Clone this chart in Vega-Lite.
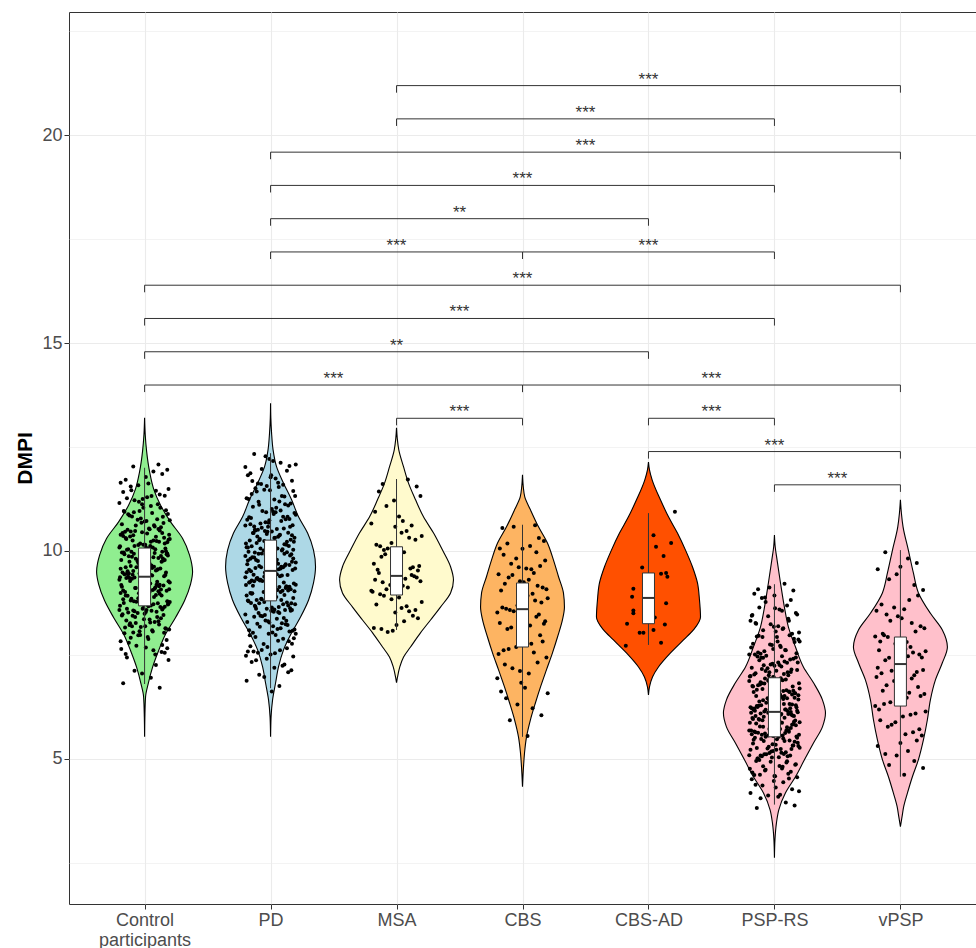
{
"$schema": "https://vega.github.io/schema/vega-lite/v6.json",
"autosize": "none",
"padding": {"left": 69, "top": 12, "right": 0, "bottom": 44},
"width": 907,
"height": 892,
"background": "white",
"config": {"view": {"stroke": "#333333", "strokeWidth": 1}, "font": "Liberation Sans"},
"datasets": {
"vio": [
{"g":"Control participants","y":5.53,"lo":1,"hi":1},{"g":"Control participants","y":6.0,"lo":0.998,"hi":1.002},{"g":"Control participants","y":6.5,"lo":0.992,"hi":1.008},{"g":"Control participants","y":6.8,"lo":0.972,"hi":1.028},{"g":"Control participants","y":7.2,"lo":0.937,"hi":1.063},{"g":"Control participants","y":7.6,"lo":0.889,"hi":1.111},{"g":"Control participants","y":8.0,"lo":0.833,"hi":1.167},{"g":"Control participants","y":8.4,"lo":0.754,"hi":1.246},{"g":"Control participants","y":8.8,"lo":0.683,"hi":1.317},{"g":"Control participants","y":9.2,"lo":0.635,"hi":1.365},{"g":"Control participants","y":9.5,"lo":0.619,"hi":1.381},{"g":"Control participants","y":9.9,"lo":0.643,"hi":1.357},{"g":"Control participants","y":10.3,"lo":0.698,"hi":1.302},{"g":"Control participants","y":10.7,"lo":0.794,"hi":1.206},{"g":"Control participants","y":11.1,"lo":0.873,"hi":1.127},{"g":"Control participants","y":11.5,"lo":0.929,"hi":1.071},{"g":"Control participants","y":11.9,"lo":0.96,"hi":1.04},{"g":"Control participants","y":12.4,"lo":0.984,"hi":1.016},{"g":"Control participants","y":12.8,"lo":0.995,"hi":1.005},{"g":"Control participants","y":13.2,"lo":1,"hi":1},
{"g":"PD","y":5.53,"lo":2,"hi":2},{"g":"PD","y":6.01,"lo":1.996,"hi":2.004},{"g":"PD","y":6.42,"lo":1.984,"hi":2.016},{"g":"PD","y":6.83,"lo":1.96,"hi":2.04},{"g":"PD","y":7.21,"lo":1.937,"hi":2.063},{"g":"PD","y":7.62,"lo":1.897,"hi":2.103},{"g":"PD","y":8.03,"lo":1.833,"hi":2.167},{"g":"PD","y":8.41,"lo":1.762,"hi":2.238},{"g":"PD","y":8.82,"lo":1.698,"hi":2.302},{"g":"PD","y":9.23,"lo":1.659,"hi":2.341},{"g":"PD","y":9.62,"lo":1.643,"hi":2.357},{"g":"PD","y":10.02,"lo":1.659,"hi":2.341},{"g":"PD","y":10.43,"lo":1.706,"hi":2.294},{"g":"PD","y":10.82,"lo":1.778,"hi":2.222},{"g":"PD","y":11.23,"lo":1.833,"hi":2.167},{"g":"PD","y":11.63,"lo":1.897,"hi":2.103},{"g":"PD","y":12.02,"lo":1.952,"hi":2.048},{"g":"PD","y":12.43,"lo":1.98,"hi":2.02},{"g":"PD","y":12.84,"lo":1.992,"hi":2.008},{"g":"PD","y":13.2,"lo":1.998,"hi":2.002},{"g":"PD","y":13.55,"lo":2,"hi":2},
{"g":"MSA","y":6.83,"lo":3,"hi":3},{"g":"MSA","y":6.97,"lo":2.992,"hi":3.008},{"g":"MSA","y":7.21,"lo":2.974,"hi":3.026},{"g":"MSA","y":7.45,"lo":2.944,"hi":3.056},{"g":"MSA","y":7.69,"lo":2.889,"hi":3.111},{"g":"MSA","y":8.03,"lo":2.81,"hi":3.19},{"g":"MSA","y":8.34,"lo":2.73,"hi":3.27},{"g":"MSA","y":8.65,"lo":2.651,"hi":3.349},{"g":"MSA","y":8.99,"lo":2.571,"hi":3.429},{"g":"MSA","y":9.3,"lo":2.548,"hi":3.452},{"g":"MSA","y":9.62,"lo":2.571,"hi":3.429},{"g":"MSA","y":10.02,"lo":2.635,"hi":3.365},{"g":"MSA","y":10.43,"lo":2.706,"hi":3.294},{"g":"MSA","y":10.82,"lo":2.786,"hi":3.214},{"g":"MSA","y":11.23,"lo":2.849,"hi":3.151},{"g":"MSA","y":11.63,"lo":2.905,"hi":3.095},{"g":"MSA","y":12.02,"lo":2.944,"hi":3.056},{"g":"MSA","y":12.43,"lo":2.982,"hi":3.018},{"g":"MSA","y":12.7,"lo":2.994,"hi":3.006},{"g":"MSA","y":12.96,"lo":3,"hi":3},
{"g":"CBS","y":4.33,"lo":4,"hi":4},{"g":"CBS","y":4.81,"lo":3.992,"hi":4.008},{"g":"CBS","y":5.14,"lo":3.984,"hi":4.016},{"g":"CBS","y":5.53,"lo":3.968,"hi":4.032},{"g":"CBS","y":5.94,"lo":3.937,"hi":4.063},{"g":"CBS","y":6.35,"lo":3.897,"hi":4.103},{"g":"CBS","y":6.73,"lo":3.857,"hi":4.143},{"g":"CBS","y":7.14,"lo":3.81,"hi":4.19},{"g":"CBS","y":7.55,"lo":3.762,"hi":4.238},{"g":"CBS","y":7.93,"lo":3.722,"hi":4.278},{"g":"CBS","y":8.34,"lo":3.683,"hi":4.317},{"g":"CBS","y":8.65,"lo":3.667,"hi":4.333},{"g":"CBS","y":8.99,"lo":3.675,"hi":4.325},{"g":"CBS","y":9.38,"lo":3.714,"hi":4.286},{"g":"CBS","y":9.78,"lo":3.754,"hi":4.246},{"g":"CBS","y":10.19,"lo":3.802,"hi":4.198},{"g":"CBS","y":10.58,"lo":3.873,"hi":4.127},{"g":"CBS","y":10.99,"lo":3.937,"hi":4.063},{"g":"CBS","y":11.3,"lo":3.982,"hi":4.018},{"g":"CBS","y":11.55,"lo":3.994,"hi":4.006},{"g":"CBS","y":11.83,"lo":4,"hi":4},
{"g":"CBS-AD","y":6.54,"lo":5,"hi":5},{"g":"CBS-AD","y":6.73,"lo":4.992,"hi":5.008},{"g":"CBS-AD","y":6.97,"lo":4.968,"hi":5.032},{"g":"CBS-AD","y":7.21,"lo":4.921,"hi":5.079},{"g":"CBS-AD","y":7.55,"lo":4.825,"hi":5.175},{"g":"CBS-AD","y":7.86,"lo":4.722,"hi":5.278},{"g":"CBS-AD","y":8.1,"lo":4.643,"hi":5.357},{"g":"CBS-AD","y":8.41,"lo":4.587,"hi":5.413},{"g":"CBS-AD","y":8.82,"lo":4.595,"hi":5.405},{"g":"CBS-AD","y":9.23,"lo":4.611,"hi":5.389},{"g":"CBS-AD","y":9.62,"lo":4.651,"hi":5.349},{"g":"CBS-AD","y":10.02,"lo":4.706,"hi":5.294},{"g":"CBS-AD","y":10.43,"lo":4.77,"hi":5.23},{"g":"CBS-AD","y":10.82,"lo":4.841,"hi":5.159},{"g":"CBS-AD","y":11.23,"lo":4.905,"hi":5.095},{"g":"CBS-AD","y":11.71,"lo":4.971,"hi":5.029},{"g":"CBS-AD","y":11.95,"lo":4.992,"hi":5.008},{"g":"CBS-AD","y":12.14,"lo":5,"hi":5},
{"g":"PSP-RS","y":2.62,"lo":6,"hi":6},{"g":"PSP-RS","y":3.05,"lo":5.996,"hi":6.004},{"g":"PSP-RS","y":3.46,"lo":5.984,"hi":6.016},{"g":"PSP-RS","y":3.77,"lo":5.966,"hi":6.034},{"g":"PSP-RS","y":4.18,"lo":5.913,"hi":6.087},{"g":"PSP-RS","y":4.57,"lo":5.833,"hi":6.167},{"g":"PSP-RS","y":4.98,"lo":5.762,"hi":6.238},{"g":"PSP-RS","y":5.38,"lo":5.69,"hi":6.31},{"g":"PSP-RS","y":5.77,"lo":5.619,"hi":6.381},{"g":"PSP-RS","y":6.1,"lo":5.595,"hi":6.405},{"g":"PSP-RS","y":6.42,"lo":5.619,"hi":6.381},{"g":"PSP-RS","y":6.83,"lo":5.69,"hi":6.31},{"g":"PSP-RS","y":7.21,"lo":5.77,"hi":6.23},{"g":"PSP-RS","y":7.69,"lo":5.833,"hi":6.167},{"g":"PSP-RS","y":8.17,"lo":5.889,"hi":6.111},{"g":"PSP-RS","y":8.65,"lo":5.921,"hi":6.079},{"g":"PSP-RS","y":9.23,"lo":5.952,"hi":6.048},{"g":"PSP-RS","y":9.78,"lo":5.979,"hi":6.021},{"g":"PSP-RS","y":10.1,"lo":5.994,"hi":6.006},{"g":"PSP-RS","y":10.38,"lo":6,"hi":6},
{"g":"vPSP","y":3.37,"lo":7,"hi":7},{"g":"vPSP","y":3.61,"lo":6.987,"hi":7.013},{"g":"vPSP","y":3.85,"lo":6.974,"hi":7.026},{"g":"vPSP","y":4.18,"lo":6.944,"hi":7.056},{"g":"vPSP","y":4.57,"lo":6.905,"hi":7.095},{"g":"vPSP","y":4.98,"lo":6.857,"hi":7.143},{"g":"vPSP","y":5.46,"lo":6.817,"hi":7.183},{"g":"vPSP","y":5.94,"lo":6.786,"hi":7.214},{"g":"vPSP","y":6.42,"lo":6.762,"hi":7.238},{"g":"vPSP","y":6.9,"lo":6.722,"hi":7.278},{"g":"vPSP","y":7.31,"lo":6.667,"hi":7.333},{"g":"vPSP","y":7.69,"lo":6.627,"hi":7.373},{"g":"vPSP","y":8.1,"lo":6.667,"hi":7.333},{"g":"vPSP","y":8.5,"lo":6.762,"hi":7.238},{"g":"vPSP","y":8.99,"lo":6.857,"hi":7.143},{"g":"vPSP","y":9.47,"lo":6.897,"hi":7.103},{"g":"vPSP","y":10.02,"lo":6.937,"hi":7.063},{"g":"vPSP","y":10.58,"lo":6.979,"hi":7.021},{"g":"vPSP","y":10.9,"lo":6.992,"hi":7.008},{"g":"vPSP","y":11.23,"lo":7,"hi":7}
],
"box": [
{"g":"Control participants","c":1,"q1":8.68,"med":9.38,"q3":10.07,"lo":6.8,"hi":12.0},
{"g":"PD","c":2,"q1":8.8,"med":9.52,"q3":10.26,"lo":6.7,"hi":12.35},
{"g":"MSA","c":3,"q1":8.94,"med":9.4,"q3":10.1,"lo":8.1,"hi":11.73},
{"g":"CBS","c":4,"q1":7.69,"med":8.6,"q3":9.23,"lo":5.53,"hi":10.63},
{"g":"CBS-AD","c":5,"q1":8.25,"med":8.87,"q3":9.47,"lo":7.74,"hi":10.91},
{"g":"PSP-RS","c":6,"q1":5.53,"med":6.13,"q3":6.95,"lo":3.9,"hi":9.2},
{"g":"vPSP","c":7,"q1":6.27,"med":7.28,"q3":7.93,"lo":4.57,"hi":10.02}
],
"sig": [
{"x1":3,"x2":7,"xm":5,"y":21.19,"yt":21.02,"lab":"***"},
{"x1":3,"x2":6,"xm":4.5,"y":20.39,"yt":20.22,"lab":"***"},
{"x1":2,"x2":7,"xm":4.5,"y":19.59,"yt":19.42,"lab":"***"},
{"x1":2,"x2":6,"xm":4,"y":18.79,"yt":18.62,"lab":"***"},
{"x1":2,"x2":5,"xm":3.5,"y":17.99,"yt":17.82,"lab":"**"},
{"x1":2,"x2":4,"xm":3,"y":17.19,"yt":17.02,"lab":"***"},
{"x1":4,"x2":6,"xm":5,"y":17.19,"yt":17.02,"lab":"***"},
{"x1":1,"x2":7,"xm":4,"y":16.39,"yt":16.22,"lab":"***"},
{"x1":1,"x2":6,"xm":3.5,"y":15.59,"yt":15.42,"lab":"***"},
{"x1":1,"x2":5,"xm":3,"y":14.79,"yt":14.62,"lab":"**"},
{"x1":1,"x2":4,"xm":2.5,"y":13.99,"yt":13.82,"lab":"***"},
{"x1":4,"x2":7,"xm":5.5,"y":13.99,"yt":13.82,"lab":"***"},
{"x1":3,"x2":4,"xm":3.5,"y":13.19,"yt":13.02,"lab":"***"},
{"x1":5,"x2":6,"xm":5.5,"y":13.19,"yt":13.02,"lab":"***"},
{"x1":5,"x2":7,"xm":6,"y":12.39,"yt":12.22,"lab":"***"},
{"x1":6,"x2":7,"xm":6.5,"y":11.59,"yt":11.42,"lab":"***"}
],
"pts": [
{"x":0.83,"y":6.82},{"x":1.05,"y":6.95},{"x":1.12,"y":6.71},{"x":0.92,"y":7.12},{"x":1.19,"y":7.38},{"x":0.98,"y":7.05},{"x":0.86,"y":7.44},{"x":1.09,"y":7.26},{"x":1.16,"y":7.55},{"x":0.89,"y":7.91},
{"x":1.01,"y":7.68},{"x":0.81,"y":7.83},{"x":1.07,"y":7.61},{"x":0.95,"y":7.97},{"x":1.14,"y":7.74},{"x":0.85,"y":7.52},{"x":1.03,"y":7.88},{"x":1.18,"y":7.66},{"x":0.91,"y":8.04},{"x":1.11,"y":8.31},
{"x":0.97,"y":8.17},{"x":0.82,"y":8.45},{"x":1.06,"y":8.09},{"x":1.13,"y":8.38},{"x":0.88,"y":8.22},{"x":1.0,"y":8.49},{"x":1.17,"y":8.13},{"x":0.93,"y":8.27},{"x":1.1,"y":8.41},{"x":0.84,"y":8.02},
{"x":1.04,"y":8.35},{"x":0.9,"y":8.19},{"x":1.15,"y":8.46},{"x":0.96,"y":8.07},{"x":1.08,"y":8.29},{"x":0.87,"y":8.52},{"x":1.2,"y":8.77},{"x":0.99,"y":8.63},{"x":1.02,"y":8.91},{"x":0.8,"y":8.58},
{"x":0.83,"y":8.84},{"x":1.05,"y":8.69},{"x":1.12,"y":8.97},{"x":0.92,"y":8.55},{"x":1.19,"y":8.73},{"x":0.98,"y":8.88},{"x":0.86,"y":8.61},{"x":1.09,"y":8.94},{"x":1.16,"y":8.66},{"x":0.89,"y":8.81},
{"x":1.01,"y":8.53},{"x":0.81,"y":8.99},{"x":1.07,"y":8.72},{"x":0.95,"y":8.86},{"x":1.14,"y":8.59},{"x":0.85,"y":8.93},{"x":1.03,"y":8.67},{"x":1.18,"y":8.79},{"x":0.91,"y":8.57},{"x":1.11,"y":9.03},
{"x":0.97,"y":9.28},{"x":0.82,"y":9.14},{"x":1.06,"y":9.41},{"x":1.13,"y":9.07},{"x":0.88,"y":9.35},{"x":1.0,"y":9.21},{"x":1.17,"y":9.48},{"x":0.93,"y":9.11},{"x":1.1,"y":9.26},{"x":0.84,"y":9.44},
{"x":1.04,"y":9.02},{"x":0.9,"y":9.33},{"x":1.15,"y":9.17},{"x":0.96,"y":9.46},{"x":1.08,"y":9.09},{"x":0.87,"y":9.38},{"x":1.2,"y":9.24},{"x":0.99,"y":9.13},{"x":1.02,"y":9.49},{"x":0.8,"y":9.31},
{"x":0.83,"y":9.05},{"x":1.05,"y":9.42},{"x":1.12,"y":9.19},{"x":0.92,"y":9.36},{"x":1.19,"y":9.27},{"x":0.98,"y":9.15},{"x":0.86,"y":9.45},{"x":1.09,"y":9.53},{"x":1.16,"y":9.78},{"x":0.89,"y":9.64},
{"x":1.01,"y":9.91},{"x":0.81,"y":9.57},{"x":1.07,"y":9.85},{"x":0.95,"y":9.71},{"x":1.14,"y":9.98},{"x":0.85,"y":9.61},{"x":1.03,"y":9.76},{"x":1.18,"y":9.94},{"x":0.91,"y":9.52},{"x":1.11,"y":9.83},
{"x":0.97,"y":9.67},{"x":0.82,"y":9.96},{"x":1.06,"y":9.59},{"x":1.13,"y":9.88},{"x":0.88,"y":9.74},{"x":1.0,"y":9.63},{"x":1.17,"y":9.99},{"x":0.93,"y":9.81},{"x":1.1,"y":9.55},{"x":0.84,"y":9.92},
{"x":1.04,"y":9.69},{"x":0.9,"y":9.86},{"x":1.15,"y":9.77},{"x":0.96,"y":9.65},{"x":1.08,"y":9.95},{"x":0.87,"y":10.04},{"x":1.2,"y":10.29},{"x":0.99,"y":10.15},{"x":1.02,"y":10.42},{"x":0.8,"y":10.08},
{"x":0.83,"y":10.36},{"x":1.05,"y":10.22},{"x":1.12,"y":10.49},{"x":0.92,"y":10.12},{"x":1.19,"y":10.27},{"x":0.98,"y":10.45},{"x":0.86,"y":10.03},{"x":1.09,"y":10.34},{"x":1.16,"y":10.18},{"x":0.89,"y":10.47},
{"x":1.01,"y":10.09},{"x":0.81,"y":10.39},{"x":1.07,"y":10.25},{"x":0.95,"y":10.14},{"x":1.14,"y":10.43},{"x":0.85,"y":10.31},{"x":1.03,"y":10.06},{"x":1.18,"y":10.21},{"x":0.91,"y":10.38},{"x":1.11,"y":10.53},
{"x":0.97,"y":10.78},{"x":0.82,"y":10.64},{"x":1.06,"y":10.91},{"x":1.13,"y":10.57},{"x":0.88,"y":10.85},{"x":1.0,"y":10.71},{"x":1.17,"y":10.98},{"x":0.93,"y":10.61},{"x":1.1,"y":10.76},{"x":0.84,"y":10.94},
{"x":1.04,"y":10.52},{"x":0.9,"y":10.83},{"x":1.15,"y":10.67},{"x":0.96,"y":10.96},{"x":1.08,"y":10.59},{"x":0.87,"y":10.88},{"x":1.2,"y":10.74},{"x":0.99,"y":11.04},{"x":1.02,"y":11.29},{"x":0.8,"y":11.15},
{"x":0.83,"y":11.42},{"x":1.05,"y":11.08},{"x":1.12,"y":11.36},{"x":0.92,"y":11.22},{"x":1.19,"y":11.49},{"x":0.98,"y":11.12},{"x":0.86,"y":11.27},{"x":1.09,"y":11.45},{"x":1.16,"y":11.33},{"x":0.89,"y":11.55},
{"x":1.01,"y":11.78},{"x":0.81,"y":11.64},{"x":1.07,"y":11.91},{"x":0.95,"y":11.58},{"x":1.14,"y":11.85},{"x":0.85,"y":11.71},{"x":1.03,"y":11.62},{"x":1.18,"y":11.95},{"x":0.91,"y":12.03},{"x":1.11,"y":12.08},
{"x":1.135,"y":7.57},{"x":0.935,"y":7.72},{"x":1.175,"y":7.86},{"x":0.815,"y":7.64},{"x":1.025,"y":7.93},{"x":0.875,"y":7.79},{"x":1.085,"y":7.51},{"x":0.965,"y":7.98},{"x":1.155,"y":8.03},{"x":0.845,"y":8.16},
{"x":1.045,"y":8.28},{"x":0.905,"y":8.44},{"x":1.195,"y":8.11},{"x":0.995,"y":8.36},{"x":1.115,"y":8.23},{"x":0.825,"y":8.48},{"x":1.065,"y":8.06},{"x":0.855,"y":8.33},{"x":1.005,"y":8.19},{"x":0.925,"y":8.41},
{"x":1.165,"y":8.14},{"x":0.885,"y":8.26},{"x":1.095,"y":8.54},{"x":0.805,"y":8.68},{"x":1.035,"y":8.83},{"x":0.975,"y":8.96},{"x":1.145,"y":8.62},{"x":0.835,"y":8.75},{"x":1.075,"y":8.89},{"x":0.945,"y":8.51},
{"x":1.185,"y":8.71},{"x":0.865,"y":8.92},{"x":1.015,"y":8.58},{"x":0.915,"y":8.79},{"x":1.125,"y":8.65},{"x":0.955,"y":8.98},{"x":1.055,"y":8.56},{"x":0.895,"y":8.85},{"x":1.105,"y":8.74},{"x":0.985,"y":8.61},
{"x":1.135,"y":8.93},{"x":0.935,"y":8.78},{"x":1.175,"y":9.04},{"x":0.815,"y":9.18},{"x":1.025,"y":9.32},{"x":0.875,"y":9.46},{"x":1.085,"y":9.12},{"x":0.965,"y":9.25},{"x":1.155,"y":9.39},{"x":0.845,"y":9.01},
{"x":1.045,"y":9.22},{"x":0.905,"y":9.43},{"x":1.195,"y":9.08},{"x":0.995,"y":9.29},{"x":1.115,"y":9.15},{"x":0.825,"y":9.48},{"x":1.065,"y":9.06},{"x":0.855,"y":9.35},{"x":1.005,"y":9.24},{"x":0.925,"y":9.11},
{"x":1.165,"y":9.42},{"x":0.885,"y":9.28},{"x":1.095,"y":9.19},{"x":0.805,"y":9.37},{"x":1.035,"y":9.54},{"x":0.975,"y":9.68},{"x":1.145,"y":9.82},{"x":0.835,"y":9.96},{"x":1.075,"y":9.62},{"x":0.945,"y":9.75},
{"x":1.185,"y":9.89},{"x":0.865,"y":9.51},{"x":1.015,"y":9.72},{"x":0.915,"y":9.93},{"x":1.125,"y":9.58},{"x":0.955,"y":9.79},{"x":1.055,"y":9.65},{"x":0.895,"y":9.98},{"x":1.105,"y":9.56},{"x":0.985,"y":9.85},
{"x":1.135,"y":9.74},{"x":0.935,"y":9.61},{"x":1.175,"y":9.92},{"x":0.815,"y":9.78},{"x":1.025,"y":9.69},{"x":0.875,"y":9.87},{"x":1.085,"y":10.04},{"x":0.965,"y":10.18},{"x":1.155,"y":10.32},{"x":0.845,"y":10.46},
{"x":1.045,"y":10.12},{"x":0.905,"y":10.25},{"x":1.195,"y":10.39},{"x":0.995,"y":10.01},{"x":1.115,"y":10.22},{"x":0.825,"y":10.43},{"x":1.065,"y":10.08},{"x":0.855,"y":10.29},{"x":1.005,"y":10.15},{"x":0.925,"y":10.48},
{"x":1.165,"y":10.06},{"x":0.885,"y":10.35},{"x":1.095,"y":10.24},{"x":0.805,"y":10.11},{"x":1.035,"y":10.54},{"x":0.975,"y":10.68},{"x":1.145,"y":10.82},{"x":0.835,"y":10.96},{"x":1.075,"y":10.62},{"x":0.945,"y":10.75},
{"x":1.185,"y":10.89},{"x":0.865,"y":10.51},{"x":1.015,"y":10.72},{"x":0.915,"y":10.93},{"x":1.125,"y":11.04},{"x":0.955,"y":11.18},{"x":1.055,"y":11.32},{"x":0.895,"y":11.46},{"x":1.105,"y":11.12},{"x":0.985,"y":11.25},
{"x":2.01,"y":6.62},{"x":1.81,"y":6.88},{"x":2.07,"y":6.75},{"x":1.95,"y":6.97},{"x":2.14,"y":7.08},{"x":1.85,"y":7.33},{"x":2.03,"y":7.19},{"x":2.18,"y":7.46},{"x":1.91,"y":7.02},{"x":2.11,"y":7.27},
{"x":1.97,"y":7.41},{"x":1.82,"y":7.58},{"x":2.06,"y":7.84},{"x":2.13,"y":7.66},{"x":1.88,"y":7.93},{"x":2.0,"y":7.51},{"x":2.17,"y":7.77},{"x":1.93,"y":7.62},{"x":2.1,"y":7.89},{"x":1.84,"y":7.71},
{"x":2.04,"y":7.98},{"x":1.9,"y":7.55},{"x":2.15,"y":8.06},{"x":1.96,"y":8.33},{"x":2.08,"y":8.14},{"x":1.87,"y":8.42},{"x":2.2,"y":8.01},{"x":1.99,"y":8.28},{"x":2.02,"y":8.19},{"x":1.8,"y":8.47},
{"x":1.83,"y":8.09},{"x":2.05,"y":8.37},{"x":2.12,"y":8.24},{"x":1.92,"y":8.44},{"x":2.19,"y":8.11},{"x":1.98,"y":8.31},{"x":1.86,"y":8.03},{"x":2.09,"y":8.26},{"x":2.16,"y":8.56},{"x":1.89,"y":8.82},
{"x":2.01,"y":8.64},{"x":1.81,"y":8.93},{"x":2.07,"y":8.51},{"x":1.95,"y":8.77},{"x":2.14,"y":8.69},{"x":1.85,"y":8.97},{"x":2.03,"y":8.59},{"x":2.18,"y":8.87},{"x":1.91,"y":8.74},{"x":2.11,"y":8.94},
{"x":1.97,"y":8.61},{"x":1.82,"y":8.81},{"x":2.06,"y":8.53},{"x":2.13,"y":8.76},{"x":1.88,"y":8.66},{"x":2.0,"y":8.91},{"x":2.17,"y":8.58},{"x":1.93,"y":8.84},{"x":2.1,"y":8.72},{"x":1.84,"y":8.99},
{"x":2.04,"y":9.06},{"x":1.9,"y":9.32},{"x":2.15,"y":9.14},{"x":1.96,"y":9.43},{"x":2.08,"y":9.01},{"x":1.87,"y":9.27},{"x":2.2,"y":9.19},{"x":1.99,"y":9.47},{"x":2.02,"y":9.09},{"x":1.8,"y":9.37},
{"x":1.83,"y":9.24},{"x":2.05,"y":9.44},{"x":2.12,"y":9.11},{"x":1.92,"y":9.31},{"x":2.19,"y":9.03},{"x":1.98,"y":9.26},{"x":1.86,"y":9.16},{"x":2.09,"y":9.41},{"x":2.16,"y":9.08},{"x":1.89,"y":9.34},
{"x":2.01,"y":9.22},{"x":1.81,"y":9.49},{"x":2.07,"y":9.13},{"x":1.95,"y":9.38},{"x":2.14,"y":9.05},{"x":1.85,"y":9.29},{"x":2.03,"y":9.56},{"x":2.18,"y":9.82},{"x":1.91,"y":9.64},{"x":2.11,"y":9.93},
{"x":1.97,"y":9.51},{"x":1.82,"y":9.77},{"x":2.06,"y":9.69},{"x":2.13,"y":9.97},{"x":1.88,"y":9.59},{"x":2.0,"y":9.87},{"x":2.17,"y":9.74},{"x":1.93,"y":9.94},{"x":2.1,"y":9.61},{"x":1.84,"y":9.81},
{"x":2.04,"y":9.53},{"x":1.9,"y":9.76},{"x":2.15,"y":9.66},{"x":1.96,"y":9.91},{"x":2.08,"y":9.58},{"x":1.87,"y":9.84},{"x":2.2,"y":9.72},{"x":1.99,"y":9.99},{"x":2.02,"y":9.63},{"x":1.8,"y":9.88},
{"x":1.83,"y":9.55},{"x":2.05,"y":9.79},{"x":2.12,"y":9.68},{"x":1.92,"y":10.06},{"x":2.19,"y":10.32},{"x":1.98,"y":10.14},{"x":1.86,"y":10.43},{"x":2.09,"y":10.01},{"x":2.16,"y":10.27},{"x":1.89,"y":10.19},
{"x":2.01,"y":10.47},{"x":1.81,"y":10.09},{"x":2.07,"y":10.37},{"x":1.95,"y":10.24},{"x":2.14,"y":10.44},{"x":1.85,"y":10.11},{"x":2.03,"y":10.31},{"x":2.18,"y":10.03},{"x":1.91,"y":10.26},{"x":2.11,"y":10.16},
{"x":1.97,"y":10.41},{"x":1.82,"y":10.08},{"x":2.06,"y":10.34},{"x":2.13,"y":10.22},{"x":1.88,"y":10.49},{"x":2.0,"y":10.13},{"x":2.17,"y":10.38},{"x":1.93,"y":10.56},{"x":2.1,"y":10.82},{"x":1.84,"y":10.64},
{"x":2.04,"y":10.93},{"x":1.9,"y":10.51},{"x":2.15,"y":10.77},{"x":1.96,"y":10.69},{"x":2.08,"y":10.97},{"x":1.87,"y":10.59},{"x":2.2,"y":10.87},{"x":1.99,"y":10.74},{"x":2.02,"y":10.94},{"x":1.8,"y":10.61},
{"x":1.83,"y":10.81},{"x":2.05,"y":10.53},{"x":2.12,"y":10.76},{"x":1.92,"y":10.66},{"x":2.19,"y":10.91},{"x":1.98,"y":10.58},{"x":1.86,"y":11.06},{"x":2.09,"y":11.32},{"x":2.16,"y":11.14},{"x":1.89,"y":11.43},
{"x":2.01,"y":11.01},{"x":1.81,"y":11.27},{"x":2.07,"y":11.19},{"x":1.95,"y":11.47},{"x":2.14,"y":11.09},{"x":1.85,"y":11.37},{"x":2.03,"y":11.24},{"x":2.18,"y":11.44},{"x":1.91,"y":11.11},{"x":2.11,"y":11.31},
{"x":1.97,"y":11.56},{"x":1.82,"y":11.82},{"x":2.06,"y":11.64},{"x":2.13,"y":11.93},{"x":1.88,"y":11.51},{"x":2.0,"y":11.77},{"x":2.17,"y":11.69},{"x":1.93,"y":11.97},{"x":2.1,"y":11.59},{"x":1.84,"y":11.87},
{"x":2.04,"y":11.74},{"x":1.9,"y":11.62},{"x":2.15,"y":12.04},{"x":1.96,"y":12.28},{"x":2.08,"y":12.12},{"x":1.87,"y":12.33},{"x":2.2,"y":12.08},{"x":1.99,"y":12.21},{"x":2.02,"y":12.16},{"x":1.8,"y":12.02},
{"x":2.165,"y":7.13},{"x":1.885,"y":7.37},{"x":2.095,"y":7.24},{"x":1.805,"y":7.48},{"x":2.035,"y":7.54},{"x":1.975,"y":7.69},{"x":2.145,"y":7.83},{"x":1.835,"y":7.97},{"x":2.075,"y":7.61},{"x":1.945,"y":7.76},
{"x":2.185,"y":7.9},{"x":1.865,"y":7.58},{"x":2.015,"y":8.04},{"x":1.915,"y":8.18},{"x":2.125,"y":8.32},{"x":1.955,"y":8.46},{"x":2.055,"y":8.12},{"x":1.895,"y":8.25},{"x":2.105,"y":8.39},{"x":1.985,"y":8.01},
{"x":2.135,"y":8.22},{"x":1.935,"y":8.43},{"x":2.175,"y":8.08},{"x":1.815,"y":8.29},{"x":2.025,"y":8.54},{"x":1.875,"y":8.68},{"x":2.085,"y":8.82},{"x":1.965,"y":8.96},{"x":2.155,"y":8.62},{"x":1.845,"y":8.75},
{"x":2.045,"y":8.89},{"x":1.905,"y":8.51},{"x":2.195,"y":8.72},{"x":1.995,"y":8.93},{"x":2.115,"y":8.58},{"x":1.825,"y":8.79},{"x":2.065,"y":8.65},{"x":1.855,"y":8.98},{"x":2.005,"y":8.56},{"x":1.925,"y":8.85},
{"x":2.165,"y":8.74},{"x":1.885,"y":8.61},{"x":2.095,"y":9.04},{"x":1.805,"y":9.18},{"x":2.035,"y":9.32},{"x":1.975,"y":9.46},{"x":2.145,"y":9.12},{"x":1.835,"y":9.25},{"x":2.075,"y":9.39},{"x":1.945,"y":9.01},
{"x":2.185,"y":9.22},{"x":1.865,"y":9.43},{"x":2.015,"y":9.08},{"x":1.915,"y":9.29},{"x":2.125,"y":9.15},{"x":1.955,"y":9.48},{"x":2.055,"y":9.06},{"x":1.895,"y":9.35},{"x":2.105,"y":9.24},{"x":1.985,"y":9.11},
{"x":2.135,"y":9.42},{"x":1.935,"y":9.28},{"x":2.175,"y":9.54},{"x":1.815,"y":9.68},{"x":2.025,"y":9.82},{"x":1.875,"y":9.96},{"x":2.085,"y":9.62},{"x":1.965,"y":9.75},{"x":2.155,"y":9.89},{"x":1.845,"y":9.51},
{"x":2.045,"y":9.72},{"x":1.905,"y":9.93},{"x":2.195,"y":9.58},{"x":1.995,"y":9.79},{"x":2.115,"y":9.65},{"x":1.825,"y":9.98},{"x":2.065,"y":9.56},{"x":1.855,"y":9.85},{"x":2.005,"y":9.74},{"x":1.925,"y":9.61},
{"x":2.165,"y":9.92},{"x":1.885,"y":9.78},{"x":2.095,"y":10.04},{"x":1.805,"y":10.18},{"x":2.035,"y":10.32},{"x":1.975,"y":10.46},{"x":2.145,"y":10.12},{"x":1.835,"y":10.25},{"x":2.075,"y":10.39},{"x":1.945,"y":10.01},
{"x":2.185,"y":10.22},{"x":1.865,"y":10.43},{"x":2.015,"y":10.08},{"x":1.915,"y":10.29},{"x":2.125,"y":10.15},{"x":1.955,"y":10.48},{"x":2.055,"y":10.06},{"x":1.895,"y":10.35},{"x":2.105,"y":10.54},{"x":1.985,"y":10.68},
{"x":2.135,"y":10.82},{"x":1.935,"y":10.96},{"x":2.175,"y":10.62},{"x":1.815,"y":10.75},{"x":2.025,"y":10.89},{"x":1.875,"y":10.51},{"x":2.085,"y":10.72},{"x":1.965,"y":10.93},{"x":2.155,"y":10.58},{"x":1.845,"y":10.79},
{"x":2.045,"y":11.04},{"x":1.905,"y":11.18},{"x":2.195,"y":11.32},{"x":1.995,"y":11.46},{"x":2.115,"y":11.12},{"x":1.825,"y":11.25},{"x":2.065,"y":11.54},{"x":1.855,"y":11.68},{"x":2.005,"y":11.82},{"x":1.925,"y":11.61},
{"x":2.97,"y":8.08},{"x":2.82,"y":8.15},{"x":3.06,"y":8.31},{"x":3.13,"y":8.44},{"x":2.88,"y":8.12},{"x":3.0,"y":8.22},{"x":3.17,"y":8.38},{"x":2.93,"y":8.05},{"x":3.1,"y":8.55},{"x":2.84,"y":8.71},
{"x":3.04,"y":8.63},{"x":2.9,"y":8.92},{"x":3.15,"y":8.58},{"x":2.96,"y":8.84},{"x":3.08,"y":8.67},{"x":2.87,"y":8.96},{"x":3.2,"y":8.77},{"x":2.99,"y":8.52},{"x":3.02,"y":8.88},{"x":2.8,"y":9.04},
{"x":2.83,"y":9.31},{"x":3.05,"y":9.16},{"x":3.12,"y":9.42},{"x":2.92,"y":9.08},{"x":3.19,"y":9.27},{"x":2.98,"y":9.21},{"x":2.86,"y":9.47},{"x":3.09,"y":9.12},{"x":3.16,"y":9.36},{"x":2.89,"y":9.25},
{"x":3.01,"y":9.44},{"x":2.81,"y":9.02},{"x":3.07,"y":9.33},{"x":2.95,"y":9.18},{"x":3.14,"y":9.39},{"x":2.85,"y":9.55},{"x":3.03,"y":9.81},{"x":3.18,"y":9.64},{"x":2.91,"y":9.92},{"x":3.11,"y":9.58},
{"x":2.97,"y":9.73},{"x":2.82,"y":9.69},{"x":3.06,"y":9.97},{"x":3.13,"y":9.61},{"x":2.88,"y":9.86},{"x":3.0,"y":9.77},{"x":3.17,"y":9.53},{"x":2.93,"y":10.06},{"x":3.1,"y":10.32},{"x":2.84,"y":10.15},
{"x":3.04,"y":10.44},{"x":2.9,"y":10.02},{"x":3.15,"y":10.27},{"x":2.96,"y":10.19},{"x":3.08,"y":10.48},{"x":2.87,"y":10.11},{"x":3.2,"y":10.36},{"x":2.99,"y":10.58},{"x":3.02,"y":10.83},{"x":2.8,"y":10.66},
{"x":2.83,"y":10.94},{"x":3.05,"y":10.72},{"x":3.12,"y":10.61},{"x":2.92,"y":11.08},{"x":3.19,"y":11.32},{"x":2.98,"y":11.21},{"x":2.86,"y":11.43},{"x":3.09,"y":11.72},{"x":3.16,"y":11.55},{"x":2.89,"y":11.61},
{"x":4.04,"y":5.55},{"x":3.9,"y":5.93},{"x":4.15,"y":6.05},{"x":3.96,"y":6.31},{"x":4.08,"y":6.22},{"x":3.87,"y":6.46},{"x":4.2,"y":6.58},{"x":3.99,"y":6.83},{"x":4.02,"y":6.71},{"x":3.8,"y":6.94},
{"x":3.83,"y":6.62},{"x":4.05,"y":7.05},{"x":4.12,"y":7.32},{"x":3.92,"y":7.18},{"x":4.19,"y":7.44},{"x":3.98,"y":7.11},{"x":3.86,"y":7.27},{"x":4.09,"y":7.56},{"x":4.16,"y":7.82},{"x":3.89,"y":7.64},
{"x":4.01,"y":7.91},{"x":3.81,"y":7.52},{"x":4.07,"y":7.77},{"x":3.95,"y":7.69},{"x":4.14,"y":7.97},{"x":3.85,"y":7.61},{"x":4.03,"y":8.04},{"x":4.18,"y":8.31},{"x":3.91,"y":8.16},{"x":4.11,"y":8.42},
{"x":3.97,"y":8.08},{"x":3.82,"y":8.27},{"x":4.06,"y":8.21},{"x":4.13,"y":8.47},{"x":3.88,"y":8.12},{"x":4.0,"y":8.36},{"x":4.17,"y":8.25},{"x":3.93,"y":8.55},{"x":4.1,"y":8.81},{"x":3.84,"y":8.64},
{"x":4.04,"y":8.92},{"x":3.9,"y":8.58},{"x":4.15,"y":8.76},{"x":3.96,"y":8.69},{"x":4.08,"y":8.97},{"x":3.87,"y":8.61},{"x":4.2,"y":8.86},{"x":3.99,"y":8.73},{"x":4.02,"y":8.94},{"x":3.8,"y":8.52},
{"x":3.83,"y":9.05},{"x":4.05,"y":9.31},{"x":4.12,"y":9.16},{"x":3.92,"y":9.42},{"x":4.19,"y":9.08},{"x":3.98,"y":9.27},{"x":3.86,"y":9.21},{"x":4.09,"y":9.47},{"x":4.16,"y":9.12},{"x":3.89,"y":9.36},
{"x":4.01,"y":9.25},{"x":3.81,"y":9.44},{"x":4.07,"y":9.56},{"x":3.95,"y":9.82},{"x":4.14,"y":9.64},{"x":3.85,"y":9.91},{"x":4.03,"y":9.58},{"x":4.18,"y":9.77},{"x":3.91,"y":9.69},{"x":4.11,"y":9.97},
{"x":3.97,"y":9.61},{"x":3.82,"y":10.06},{"x":4.06,"y":10.12},{"x":4.13,"y":10.31},{"x":3.88,"y":10.18},{"x":4.0,"y":10.05},{"x":4.17,"y":10.24},{"x":3.93,"y":10.58},{"x":4.1,"y":10.62},{"x":3.84,"y":10.55},
{"x":5.21,"y":10.94},{"x":5.04,"y":10.38},{"x":5.18,"y":10.19},{"x":5.06,"y":10.1},{"x":5.12,"y":9.88},{"x":5.1,"y":9.45},{"x":5.14,"y":9.47},{"x":5.15,"y":9.38},{"x":4.88,"y":9.09},{"x":4.87,"y":8.9},
{"x":4.88,"y":8.57},{"x":4.88,"y":8.5},{"x":5.14,"y":8.74},{"x":4.83,"y":8.25},{"x":5.13,"y":8.23},{"x":4.93,"y":8.03},{"x":4.96,"y":8.03},{"x":5.04,"y":8.1},{"x":4.82,"y":7.72},{"x":5.1,"y":7.79},
{"x":5.02,"y":8.7},{"x":4.98,"y":9.25},{"x":5.05,"y":8.4},{"x":4.95,"y":9.6},
{"x":5.86,"y":3.82},{"x":6.09,"y":3.95},{"x":6.16,"y":3.88},{"x":5.89,"y":4.05},{"x":6.01,"y":4.31},{"x":5.81,"y":4.18},{"x":6.07,"y":4.44},{"x":5.95,"y":4.12},{"x":6.14,"y":4.27},{"x":5.85,"y":4.38},
{"x":6.03,"y":4.09},{"x":6.18,"y":4.56},{"x":5.91,"y":4.82},{"x":6.11,"y":4.64},{"x":5.97,"y":4.93},{"x":5.82,"y":4.51},{"x":6.06,"y":4.77},{"x":6.13,"y":4.69},{"x":5.88,"y":4.97},{"x":6.0,"y":4.59},
{"x":6.17,"y":4.87},{"x":5.93,"y":4.74},{"x":6.1,"y":4.94},{"x":5.84,"y":4.61},{"x":6.04,"y":4.83},{"x":5.9,"y":5.06},{"x":6.15,"y":5.32},{"x":5.96,"y":5.14},{"x":6.08,"y":5.43},{"x":5.87,"y":5.01},
{"x":6.2,"y":5.27},{"x":5.99,"y":5.19},{"x":6.02,"y":5.47},{"x":5.8,"y":5.09},{"x":5.83,"y":5.37},{"x":6.05,"y":5.24},{"x":6.12,"y":5.44},{"x":5.92,"y":5.11},{"x":6.19,"y":5.31},{"x":5.98,"y":5.03},
{"x":5.86,"y":5.26},{"x":6.09,"y":5.16},{"x":6.16,"y":5.41},{"x":5.89,"y":5.08},{"x":6.01,"y":5.34},{"x":5.81,"y":5.22},{"x":6.07,"y":5.49},{"x":5.95,"y":5.56},{"x":6.14,"y":5.82},{"x":5.85,"y":5.64},
{"x":6.03,"y":5.93},{"x":6.18,"y":5.51},{"x":5.91,"y":5.77},{"x":6.11,"y":5.69},{"x":5.97,"y":5.97},{"x":5.82,"y":5.59},{"x":6.06,"y":5.87},{"x":6.13,"y":5.74},{"x":5.88,"y":5.94},{"x":6.0,"y":5.61},
{"x":6.17,"y":5.81},{"x":5.93,"y":5.53},{"x":6.1,"y":5.76},{"x":5.84,"y":5.66},{"x":6.04,"y":5.91},{"x":5.9,"y":5.58},{"x":6.15,"y":5.84},{"x":5.96,"y":5.72},{"x":6.08,"y":5.99},{"x":5.87,"y":5.63},
{"x":6.2,"y":5.88},{"x":5.99,"y":5.55},{"x":6.02,"y":5.79},{"x":5.8,"y":5.68},{"x":5.83,"y":5.96},{"x":6.05,"y":6.06},{"x":6.12,"y":6.32},{"x":5.92,"y":6.14},{"x":6.19,"y":6.43},{"x":5.98,"y":6.01},
{"x":5.86,"y":6.27},{"x":6.09,"y":6.19},{"x":6.16,"y":6.47},{"x":5.89,"y":6.09},{"x":6.01,"y":6.37},{"x":5.81,"y":6.24},{"x":6.07,"y":6.44},{"x":5.95,"y":6.11},{"x":6.14,"y":6.31},{"x":5.85,"y":6.03},
{"x":6.03,"y":6.26},{"x":6.18,"y":6.16},{"x":5.91,"y":6.41},{"x":6.11,"y":6.08},{"x":5.97,"y":6.34},{"x":5.82,"y":6.22},{"x":6.06,"y":6.49},{"x":6.13,"y":6.13},{"x":5.88,"y":6.38},{"x":6.0,"y":6.05},
{"x":6.17,"y":6.29},{"x":5.93,"y":6.18},{"x":6.1,"y":6.46},{"x":5.84,"y":6.21},{"x":6.04,"y":6.56},{"x":5.9,"y":6.82},{"x":6.15,"y":6.64},{"x":5.96,"y":6.93},{"x":6.08,"y":6.51},{"x":5.87,"y":6.77},
{"x":6.2,"y":6.69},{"x":5.99,"y":6.97},{"x":6.02,"y":6.59},{"x":5.8,"y":6.87},{"x":5.83,"y":6.74},{"x":6.05,"y":6.94},{"x":6.12,"y":6.61},{"x":5.92,"y":6.81},{"x":6.19,"y":6.53},{"x":5.98,"y":6.76},
{"x":5.86,"y":6.66},{"x":6.09,"y":6.91},{"x":6.16,"y":6.58},{"x":5.89,"y":6.84},{"x":6.01,"y":6.72},{"x":5.81,"y":6.99},{"x":6.07,"y":6.63},{"x":5.95,"y":6.88},{"x":6.14,"y":6.55},{"x":5.85,"y":7.06},
{"x":6.03,"y":7.32},{"x":6.18,"y":7.14},{"x":5.91,"y":7.43},{"x":6.11,"y":7.01},{"x":5.97,"y":7.27},{"x":5.82,"y":7.19},{"x":6.06,"y":7.47},{"x":6.13,"y":7.09},{"x":5.88,"y":7.37},{"x":6.0,"y":7.24},
{"x":6.17,"y":7.44},{"x":5.93,"y":7.11},{"x":6.1,"y":7.31},{"x":5.84,"y":7.03},{"x":6.04,"y":7.26},{"x":5.9,"y":7.16},{"x":6.15,"y":7.41},{"x":5.96,"y":7.08},{"x":6.08,"y":7.34},{"x":5.87,"y":7.56},
{"x":6.2,"y":7.82},{"x":5.99,"y":7.64},{"x":6.02,"y":7.93},{"x":5.8,"y":7.51},{"x":5.83,"y":7.77},{"x":6.05,"y":7.69},{"x":6.12,"y":7.97},{"x":5.92,"y":7.59},{"x":6.19,"y":7.87},{"x":5.98,"y":7.74},
{"x":5.86,"y":7.94},{"x":6.09,"y":7.61},{"x":6.16,"y":7.81},{"x":5.89,"y":7.53},{"x":6.01,"y":8.06},{"x":5.81,"y":8.32},{"x":6.07,"y":8.14},{"x":5.95,"y":8.43},{"x":6.14,"y":8.01},{"x":5.85,"y":8.27},
{"x":6.03,"y":8.19},{"x":6.18,"y":8.47},{"x":5.91,"y":8.09},{"x":6.11,"y":8.37},{"x":5.97,"y":8.24},{"x":5.82,"y":8.44},{"x":6.06,"y":8.56},{"x":6.13,"y":8.82},{"x":5.88,"y":8.64},{"x":6.0,"y":8.93},
{"x":6.17,"y":8.51},{"x":5.93,"y":8.77},{"x":6.1,"y":8.69},{"x":5.84,"y":8.97},{"x":6.04,"y":8.59},{"x":5.9,"y":8.87},{"x":6.15,"y":9.05},{"x":5.96,"y":9.12},{"x":6.08,"y":9.21},{"x":5.87,"y":9.08},
{"x":6.045,"y":4.14},{"x":5.905,"y":4.36},{"x":6.195,"y":4.22},{"x":5.995,"y":4.47},{"x":6.115,"y":4.53},{"x":5.825,"y":4.67},{"x":6.065,"y":4.81},{"x":5.855,"y":4.95},{"x":6.005,"y":4.58},{"x":5.925,"y":4.72},
{"x":6.165,"y":4.86},{"x":5.885,"y":4.62},{"x":6.095,"y":4.91},{"x":5.805,"y":4.76},{"x":6.035,"y":5.04},{"x":5.975,"y":5.18},{"x":6.145,"y":5.32},{"x":5.835,"y":5.46},{"x":6.075,"y":5.12},{"x":5.945,"y":5.25},
{"x":6.185,"y":5.39},{"x":5.865,"y":5.01},{"x":6.015,"y":5.22},{"x":5.915,"y":5.43},{"x":6.125,"y":5.08},{"x":5.955,"y":5.29},{"x":6.055,"y":5.15},{"x":5.895,"y":5.48},{"x":6.105,"y":5.06},{"x":5.985,"y":5.35},
{"x":6.135,"y":5.24},{"x":5.935,"y":5.11},{"x":6.175,"y":5.54},{"x":5.815,"y":5.68},{"x":6.025,"y":5.82},{"x":5.875,"y":5.96},{"x":6.085,"y":5.62},{"x":5.965,"y":5.75},{"x":6.155,"y":5.89},{"x":5.845,"y":5.51},
{"x":6.045,"y":5.72},{"x":5.905,"y":5.93},{"x":6.195,"y":5.58},{"x":5.995,"y":5.79},{"x":6.115,"y":5.65},{"x":5.825,"y":5.98},{"x":6.065,"y":5.56},{"x":5.855,"y":5.85},{"x":6.005,"y":5.74},{"x":5.925,"y":5.61},
{"x":6.165,"y":5.92},{"x":5.885,"y":5.78},{"x":6.095,"y":5.69},{"x":5.805,"y":5.87},{"x":6.035,"y":5.53},{"x":5.975,"y":5.66},{"x":6.145,"y":6.04},{"x":5.835,"y":6.18},{"x":6.075,"y":6.32},{"x":5.945,"y":6.46},
{"x":6.185,"y":6.12},{"x":5.865,"y":6.25},{"x":6.015,"y":6.39},{"x":5.915,"y":6.01},{"x":6.125,"y":6.22},{"x":5.955,"y":6.43},{"x":6.055,"y":6.08},{"x":5.895,"y":6.29},{"x":6.105,"y":6.15},{"x":5.985,"y":6.48},
{"x":6.135,"y":6.06},{"x":5.935,"y":6.35},{"x":6.175,"y":6.24},{"x":5.815,"y":6.11},{"x":6.025,"y":6.42},{"x":5.875,"y":6.28},{"x":6.085,"y":6.19},{"x":5.965,"y":6.37},{"x":6.155,"y":6.03},{"x":5.845,"y":6.16},
{"x":6.045,"y":6.54},{"x":5.905,"y":6.68},{"x":6.195,"y":6.82},{"x":5.995,"y":6.96},{"x":6.115,"y":6.62},{"x":5.825,"y":6.75},{"x":6.065,"y":6.89},{"x":5.855,"y":6.51},{"x":6.005,"y":6.72},{"x":5.925,"y":6.93},
{"x":6.165,"y":6.58},{"x":5.885,"y":6.79},{"x":6.095,"y":6.65},{"x":5.805,"y":6.98},{"x":6.035,"y":6.56},{"x":5.975,"y":6.85},{"x":6.145,"y":6.74},{"x":5.835,"y":6.61},{"x":6.075,"y":7.04},{"x":5.945,"y":7.18},
{"x":6.185,"y":7.32},{"x":5.865,"y":7.46},{"x":6.015,"y":7.12},{"x":5.915,"y":7.25},{"x":6.125,"y":7.39},{"x":5.955,"y":7.01},{"x":6.055,"y":7.22},{"x":5.895,"y":7.43},{"x":6.105,"y":7.08},{"x":5.985,"y":7.29},
{"x":6.135,"y":7.15},{"x":5.935,"y":7.48},{"x":6.175,"y":7.54},{"x":5.815,"y":7.68},{"x":6.025,"y":7.82},{"x":5.875,"y":7.96},{"x":6.085,"y":7.62},{"x":5.965,"y":7.75},{"x":6.155,"y":7.89},{"x":5.845,"y":7.51},
{"x":6.045,"y":7.72},{"x":5.905,"y":7.93},{"x":6.195,"y":8.04},{"x":5.995,"y":8.18},{"x":6.115,"y":8.32},{"x":5.825,"y":8.46},{"x":6.065,"y":8.12},{"x":5.855,"y":8.25},{"x":6.005,"y":8.62},{"x":5.925,"y":8.88},
{"x":7.03,"y":4.62},{"x":7.18,"y":4.78},{"x":6.91,"y":4.85},{"x":7.11,"y":4.95},{"x":6.97,"y":5.08},{"x":6.82,"y":5.31},{"x":7.06,"y":5.19},{"x":7.13,"y":5.44},{"x":6.88,"y":5.12},{"x":7.0,"y":5.38},
{"x":7.17,"y":5.56},{"x":6.93,"y":5.82},{"x":7.1,"y":5.64},{"x":6.84,"y":5.93},{"x":7.04,"y":5.59},{"x":6.9,"y":5.77},{"x":7.15,"y":5.71},{"x":6.96,"y":5.88},{"x":7.08,"y":6.06},{"x":6.87,"y":6.32},
{"x":7.2,"y":6.14},{"x":6.99,"y":6.43},{"x":7.02,"y":6.02},{"x":6.8,"y":6.27},{"x":6.83,"y":6.19},{"x":7.05,"y":6.47},{"x":7.12,"y":6.09},{"x":6.92,"y":6.36},{"x":7.19,"y":6.56},{"x":6.98,"y":6.82},
{"x":6.86,"y":6.64},{"x":7.09,"y":6.93},{"x":7.16,"y":6.51},{"x":6.89,"y":6.77},{"x":7.01,"y":6.69},{"x":6.81,"y":6.97},{"x":7.07,"y":6.59},{"x":6.95,"y":6.87},{"x":7.14,"y":6.73},{"x":6.85,"y":7.06},
{"x":7.03,"y":7.32},{"x":7.18,"y":7.14},{"x":6.91,"y":7.43},{"x":7.11,"y":7.01},{"x":6.97,"y":7.27},{"x":6.82,"y":7.19},{"x":7.06,"y":7.47},{"x":7.13,"y":7.09},{"x":6.88,"y":7.37},{"x":7.0,"y":7.24},
{"x":7.17,"y":7.44},{"x":6.93,"y":7.12},{"x":7.1,"y":7.56},{"x":6.84,"y":7.82},{"x":7.04,"y":7.64},{"x":6.9,"y":7.93},{"x":7.15,"y":7.51},{"x":6.96,"y":7.77},{"x":7.08,"y":7.69},{"x":6.87,"y":7.97},
{"x":7.2,"y":7.59},{"x":6.99,"y":7.87},{"x":7.02,"y":7.74},{"x":6.8,"y":7.94},{"x":6.83,"y":7.61},{"x":7.05,"y":7.81},{"x":7.12,"y":8.06},{"x":6.92,"y":8.32},{"x":7.19,"y":8.14},{"x":6.98,"y":8.43},
{"x":6.86,"y":8.01},{"x":7.09,"y":8.27},{"x":7.16,"y":8.19},{"x":6.89,"y":8.47},{"x":7.01,"y":8.38},{"x":6.81,"y":8.56},{"x":7.07,"y":8.82},{"x":6.95,"y":8.64},{"x":7.14,"y":8.93},{"x":6.85,"y":8.71},
{"x":7.03,"y":8.6},{"x":7.18,"y":9.06},{"x":6.91,"y":9.32},{"x":7.11,"y":9.18},{"x":6.97,"y":9.44},{"x":6.82,"y":9.56},{"x":7.06,"y":9.82},{"x":7.13,"y":9.71},{"x":6.88,"y":9.97},{"x":7.0,"y":9.62}
]
},
"layer": [
{
"data": {"name": "vio"},
"mark": {"type": "area", "orient": "horizontal", "interpolate": "monotone", "stroke": "black", "strokeWidth": 1.1, "opacity": 1, "fillOpacity": 1},
"encoding": {
"y": {"field": "y", "type": "quantitative", "scale": {"domain": [1.51, 22.96], "nice": false, "zero": false, "padding": 0},
 "axis": {"title": "DMPI", "values": [2.5, 5, 7.5, 10, 12.5, 15, 17.5, 20, 22.5],
  "labelExpr": "datum.value % 5 == 0 ? datum.label : ''",
  "grid": true,
  "gridColor": "#ebebeb",
  "gridWidth": {"condition": {"test": "datum.value % 5 == 0", "value": 1.1}, "value": 0.6},
  "tickColor": {"condition": {"test": "datum.value % 5 == 0", "value": "#333333"}, "value": "rgba(0,0,0,0)"},
  "tickSize": 5, "tickWidth": 1, "domain": false,
  "labelFontSize": 18, "labelColor": "#4d4d4d", "labelFont": "Liberation Sans", "labelPadding": 2,
  "titleFontSize": 21, "titleFont": "Liberation Sans", "titleFontWeight": "bold", "titleColor": "black", "titlePadding": 6}},
"x": {"field": "lo", "type": "quantitative", "scale": {"domain": [0.4, 7.6], "nice": false, "zero": false, "padding": 0},
 "axis": {"title": null, "values": [1, 2, 3, 4, 5, 6, 7],
  "labelExpr": "datum.value == 1 ? ['Control', 'participants'] : ['', '', 'PD', 'MSA', 'CBS', 'CBS-AD', 'PSP-RS', 'vPSP'][datum.value]",
  "grid": true, "gridColor": "#ebebeb", "gridWidth": 1.1,
  "tickColor": "#333333", "tickSize": 5, "tickWidth": 1, "domain": false,
  "labelFontSize": 18, "labelColor": "#4d4d4d", "labelFont": "Liberation Sans", "labelPadding": 2, "labelLineHeight": 20,
  "labelFlush": false, "labelOverlap": false}},
"x2": {"field": "hi"},
"fill": {"field": "g", "type": "nominal", "legend": null,
 "scale": {"domain": ["Control participants", "PD", "MSA", "CBS", "CBS-AD", "PSP-RS", "vPSP"],
  "range": ["#90EE90", "#ADD8E6", "#FFFACD", "#FDB462", "#FF5000", "#FFC0CB", "#FFC0CB"]}}
}
},
{
"data": {"name": "pts"},
"mark": {"type": "circle", "size": 16, "color": "black", "opacity": 1},
"encoding": {
"x": {"field": "x", "type": "quantitative"},
"y": {"field": "y", "type": "quantitative"}
}
},
{
"data": {"name": "box"},
"mark": {"type": "rule", "color": "#333333", "strokeWidth": 1},
"encoding": {
"x": {"field": "c", "type": "quantitative"},
"y": {"field": "lo", "type": "quantitative"},
"y2": {"field": "hi"}
}
},
{
"data": {"name": "box"},
"mark": {"type": "bar", "orient": "vertical", "size": 12, "fill": "white", "stroke": "#333333", "strokeWidth": 1, "opacity": 1},
"encoding": {
"x": {"field": "c", "type": "quantitative"},
"y": {"field": "q1", "type": "quantitative"},
"y2": {"field": "q3"}
}
},
{
"data": {"name": "box"},
"mark": {"type": "tick", "orient": "horizontal", "size": 12, "thickness": 2, "color": "#333333", "opacity": 1},
"encoding": {
"x": {"field": "c", "type": "quantitative"},
"y": {"field": "med", "type": "quantitative"}
}
},
{
"data": {"name": "sig"},
"mark": {"type": "rule", "color": "#333333", "strokeWidth": 1},
"encoding": {
"x": {"field": "x1", "type": "quantitative"},
"x2": {"field": "x2"},
"y": {"field": "y", "type": "quantitative"}
}
},
{
"data": {"name": "sig"},
"mark": {"type": "rule", "color": "#333333", "strokeWidth": 1},
"encoding": {
"x": {"field": "x1", "type": "quantitative"},
"y": {"field": "y", "type": "quantitative"},
"y2": {"field": "yt"}
}
},
{
"data": {"name": "sig"},
"mark": {"type": "rule", "color": "#333333", "strokeWidth": 1},
"encoding": {
"x": {"field": "x2", "type": "quantitative"},
"y": {"field": "y", "type": "quantitative"},
"y2": {"field": "yt"}
}
},
{
"data": {"name": "sig"},
"mark": {"type": "text", "font": "Liberation Sans", "fontSize": 17, "color": "#333333", "baseline": "alphabetic", "align": "center", "dy": -1},
"encoding": {
"x": {"field": "xm", "type": "quantitative"},
"y": {"field": "y", "type": "quantitative"},
"text": {"field": "lab"}
}
}
]
}
